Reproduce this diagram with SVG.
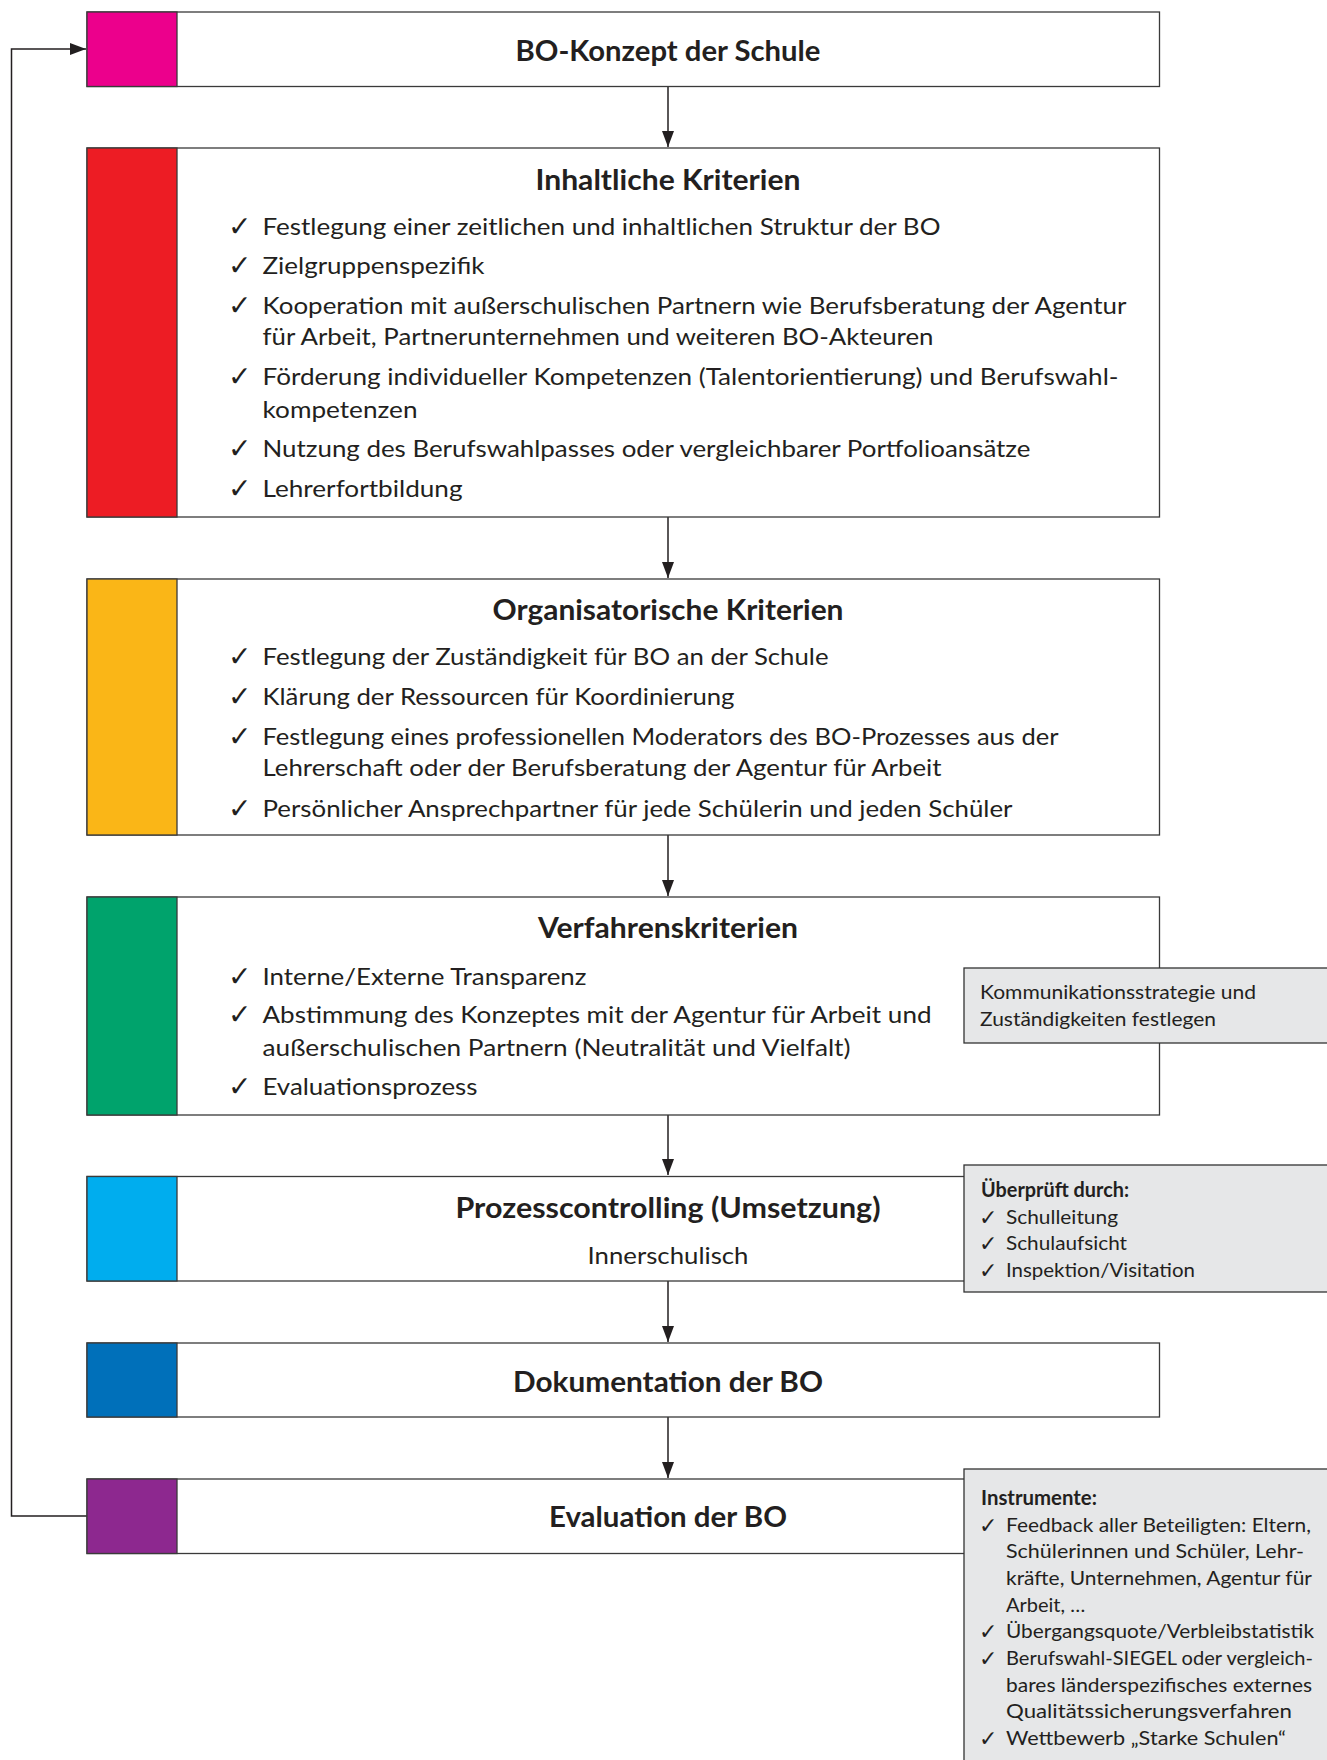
<svg xmlns="http://www.w3.org/2000/svg" width="1327" height="1760" viewBox="0 0 1327 1760">
<style>
.box{fill:#fff;stroke:#3a3a3a;stroke-width:1.3}
.gbox{fill:#e6e7e8;stroke:#333;stroke-width:1.3}
.bar{stroke:#3a3a3a;stroke-width:1.3}
.t{font-family:Lato,"Open Sans","DejaVu Sans",sans-serif;font-weight:bold;font-size:28px;fill:#231f20;text-anchor:middle}
.b{font-family:Lato,"Open Sans","DejaVu Sans",sans-serif;font-size:24px;fill:#231f20}
.s{font-family:Lato,"Open Sans","DejaVu Sans",sans-serif;font-size:20px;fill:#231f20}
.sb{font-family:Lato,"Open Sans","DejaVu Sans",sans-serif;font-size:20px;font-weight:bold;fill:#231f20}
.ck{font-family:"DejaVu Sans",sans-serif;font-size:28px;fill:#231f20}
.cks{font-family:"DejaVu Sans",sans-serif;font-size:22px;fill:#231f20}
.con{fill:none;stroke:#231f20;stroke-width:1.5}
</style>
<defs>
<marker id="ah" viewBox="0 0 16 12" refX="16" refY="6" markerWidth="16" markerHeight="12" markerUnits="userSpaceOnUse" orient="auto">
<path d="M0,0 L16,6 L0,12 Z" fill="#231f20"/>
</marker>
</defs>

<g id="connectors">
<line class="con" x1="668" y1="87" x2="668" y2="147" marker-end="url(#ah)"/>
<line class="con" x1="668" y1="517" x2="668" y2="578" marker-end="url(#ah)"/>
<line class="con" x1="668" y1="835" x2="668" y2="896" marker-end="url(#ah)"/>
<line class="con" x1="668" y1="1115" x2="668" y2="1175" marker-end="url(#ah)"/>
<line class="con" x1="668" y1="1281" x2="668" y2="1342" marker-end="url(#ah)"/>
<line class="con" x1="668" y1="1417" x2="668" y2="1478" marker-end="url(#ah)"/>
<polyline class="con" points="87,1516 11.5,1516 11.5,49 86,49" marker-end="url(#ah)"/>
</g>

<g id="node-bo-konzept">
<rect class="box" x="87" y="12" width="1072.5" height="74.5"/>
<rect class="bar" x="87" y="12" width="90" height="74.5" fill="#ec008c"/>
<text class="t" x="668" y="60.5" textLength="305" lengthAdjust="spacingAndGlyphs">BO-Konzept der Schule</text>
</g>

<g id="node-inhaltliche">
<rect class="box" x="87" y="148" width="1072.5" height="369"/>
<rect class="bar" x="87" y="148" width="90" height="369" fill="#ed1c24"/>
<text class="t" x="668" y="189.5" textLength="265" lengthAdjust="spacingAndGlyphs">Inhaltliche Kriterien</text>
<text class="ck" x="228" y="236">✓</text><text class="b" x="262.5" y="235" textLength="678" lengthAdjust="spacingAndGlyphs">Festlegung einer zeitlichen und inhaltlichen Struktur der BO</text>
<text class="ck" x="228" y="275">✓</text><text class="b" x="262.5" y="274" textLength="222" lengthAdjust="spacingAndGlyphs">Zielgruppenspezifik</text>
<text class="ck" x="228" y="314.5">✓</text><text class="b" x="262.5" y="313.5" textLength="864" lengthAdjust="spacingAndGlyphs">Kooperation mit außerschulischen Partnern wie Berufsberatung der Agentur</text>
<text class="b" x="262.5" y="345" textLength="671" lengthAdjust="spacingAndGlyphs">für Arbeit, Partnerunternehmen und weiteren BO-Akteuren</text>
<text class="ck" x="228" y="386">✓</text><text class="b" x="262.5" y="385" textLength="856" lengthAdjust="spacingAndGlyphs">Förderung individueller Kompetenzen (Talentorientierung) und Berufswahl-</text>
<text class="b" x="262.5" y="418" textLength="155" lengthAdjust="spacingAndGlyphs">kompetenzen</text>
<text class="ck" x="228" y="458">✓</text><text class="b" x="262.5" y="457" textLength="768" lengthAdjust="spacingAndGlyphs">Nutzung des Berufswahlpasses oder vergleichbarer Portfolioansätze</text>
<text class="ck" x="228" y="497.5">✓</text><text class="b" x="262.5" y="496.5" textLength="200" lengthAdjust="spacingAndGlyphs">Lehrerfortbildung</text>
</g>

<g id="node-organisatorische">
<rect class="box" x="87" y="579" width="1072.5" height="256"/>
<rect class="bar" x="87" y="579" width="90" height="256" fill="#fab617"/>
<text class="t" x="668" y="619.5" textLength="351" lengthAdjust="spacingAndGlyphs">Organisatorische Kriterien</text>
<text class="ck" x="228" y="666">✓</text><text class="b" x="262.5" y="665" textLength="566" lengthAdjust="spacingAndGlyphs">Festlegung der Zuständigkeit für BO an der Schule</text>
<text class="ck" x="228" y="706">✓</text><text class="b" x="262.5" y="705" textLength="472" lengthAdjust="spacingAndGlyphs">Klärung der Ressourcen für Koordinierung</text>
<text class="ck" x="228" y="745.5">✓</text><text class="b" x="262.5" y="744.5" textLength="796" lengthAdjust="spacingAndGlyphs">Festlegung eines professionellen Moderators des BO-Prozesses aus der</text>
<text class="b" x="262.5" y="776" textLength="679" lengthAdjust="spacingAndGlyphs">Lehrerschaft oder der Berufsberatung der Agentur für Arbeit</text>
<text class="ck" x="228" y="817.5">✓</text><text class="b" x="262.5" y="816.5" textLength="750" lengthAdjust="spacingAndGlyphs">Persönlicher Ansprechpartner für jede Schülerin und jeden Schüler</text>
</g>

<g id="node-verfahren">
<rect class="box" x="87" y="897" width="1072.5" height="218"/>
<rect class="bar" x="87" y="897" width="90" height="218" fill="#00a36c"/>
<text class="t" x="668" y="938" textLength="260" lengthAdjust="spacingAndGlyphs">Verfahrenskriterien</text>
<text class="ck" x="228" y="986">✓</text><text class="b" x="262.5" y="985" textLength="324" lengthAdjust="spacingAndGlyphs">Interne/Externe Transparenz</text>
<text class="ck" x="228" y="1024">✓</text><text class="b" x="262.5" y="1023" textLength="669" lengthAdjust="spacingAndGlyphs">Abstimmung des Konzeptes mit der Agentur für Arbeit und</text>
<text class="b" x="262.5" y="1055.5" textLength="588" lengthAdjust="spacingAndGlyphs">außerschulischen Partnern (Neutralität und Vielfalt)</text>
<text class="ck" x="228" y="1096">✓</text><text class="b" x="262.5" y="1095" textLength="215" lengthAdjust="spacingAndGlyphs">Evaluationsprozess</text>
</g>

<g id="note-kommunikation">
<rect class="gbox" x="964" y="968" width="380" height="75"/>
<text class="s" x="980" y="999" textLength="276" lengthAdjust="spacingAndGlyphs">Kommunikationsstrategie und</text>
<text class="s" x="980" y="1026" textLength="236" lengthAdjust="spacingAndGlyphs">Zuständigkeiten festlegen</text>
</g>

<g id="node-prozess">
<rect class="box" x="87" y="1176.5" width="1072.5" height="104.5"/>
<rect class="bar" x="87" y="1176.5" width="90" height="104.5" fill="#00adee"/>
<text class="t" x="668" y="1217.5" textLength="425" lengthAdjust="spacingAndGlyphs">Prozesscontrolling (Umsetzung)</text>
<text class="b" x="668" y="1263.5" text-anchor="middle" textLength="161" lengthAdjust="spacingAndGlyphs">Innerschulisch</text>
</g>

<g id="note-ueberprueft">
<rect class="gbox" x="964" y="1165" width="380" height="127"/>
<text class="sb" x="981" y="1196.5" textLength="148" lengthAdjust="spacingAndGlyphs">Überprüft durch:</text>
<text class="cks" x="979" y="1224.5">✓</text><text class="s" x="1006" y="1223.5" textLength="112" lengthAdjust="spacingAndGlyphs">Schulleitung</text>
<text class="cks" x="979" y="1251">✓</text><text class="s" x="1006" y="1250" textLength="121" lengthAdjust="spacingAndGlyphs">Schulaufsicht</text>
<text class="cks" x="979" y="1277.5">✓</text><text class="s" x="1006" y="1276.5" textLength="189" lengthAdjust="spacingAndGlyphs">Inspektion/Visitation</text>
</g>

<g id="node-dokumentation">
<rect class="box" x="87" y="1343" width="1072.5" height="74"/>
<rect class="bar" x="87" y="1343" width="90" height="74" fill="#0070ba"/>
<text class="t" x="668" y="1391.5" textLength="310" lengthAdjust="spacingAndGlyphs">Dokumentation der BO</text>
</g>

<g id="node-evaluation">
<rect class="box" x="87" y="1479" width="1072.5" height="74.5"/>
<rect class="bar" x="87" y="1479" width="90" height="74.5" fill="#8d288f"/>
<text class="t" x="668" y="1527" textLength="238" lengthAdjust="spacingAndGlyphs">Evaluation der BO</text>
</g>

<g id="note-instrumente">
<rect class="gbox" x="964" y="1469" width="380" height="310"/>
<text class="sb" x="981" y="1505" textLength="116" lengthAdjust="spacingAndGlyphs">Instrumente:</text>
<text class="cks" x="979" y="1532.5">✓</text><text class="s" x="1006" y="1531.5" textLength="305" lengthAdjust="spacingAndGlyphs">Feedback aller Beteiligten: Eltern,</text>
<text class="s" x="1006" y="1558.3" textLength="298" lengthAdjust="spacingAndGlyphs">Schülerinnen und Schüler, Lehr-</text>
<text class="s" x="1006" y="1585" textLength="306" lengthAdjust="spacingAndGlyphs">kräfte, Unternehmen, Agentur für</text>
<text class="s" x="1006" y="1611.7">Arbeit, …</text>
<text class="cks" x="979" y="1639.3">✓</text><text class="s" x="1006" y="1638.3" textLength="308" lengthAdjust="spacingAndGlyphs">Übergangsquote/Verbleibstatistik</text>
<text class="cks" x="979" y="1666">✓</text><text class="s" x="1006" y="1665" textLength="307" lengthAdjust="spacingAndGlyphs">Berufswahl-SIEGEL oder vergleich-</text>
<text class="s" x="1006" y="1691.7" textLength="306" lengthAdjust="spacingAndGlyphs">bares länderspezifisches externes</text>
<text class="s" x="1006" y="1718.3" textLength="286" lengthAdjust="spacingAndGlyphs">Qualitätssicherungsverfahren</text>
<text class="cks" x="979" y="1746">✓</text><text class="s" x="1006" y="1745" textLength="280" lengthAdjust="spacingAndGlyphs">Wettbewerb „Starke Schulen“</text>
</g>
</svg>
